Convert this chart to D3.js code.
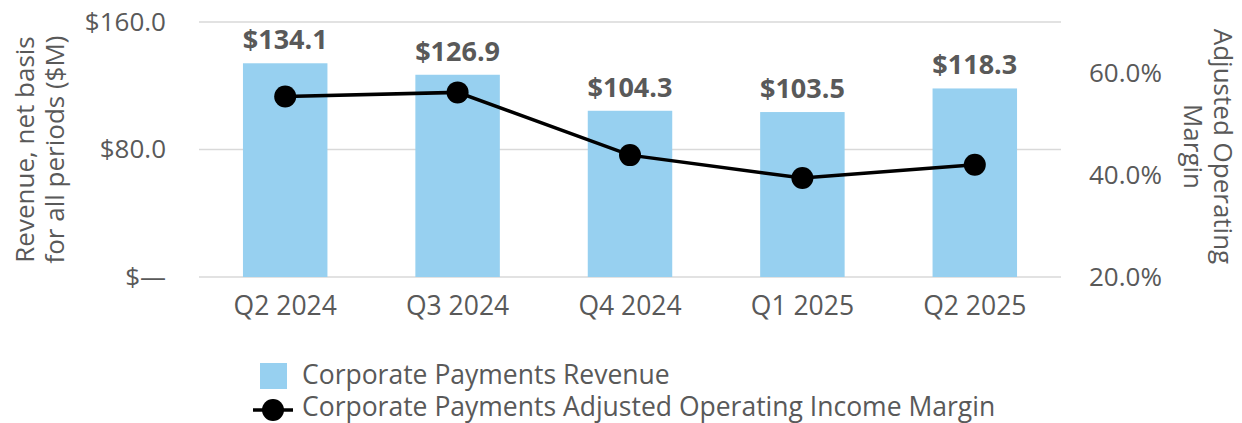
<!DOCTYPE html>
<html>
<head>
<meta charset="utf-8">
<script src="https://cdn.jsdelivr.net/npm/d3@7"></script>
<style>
  html, body { margin: 0; padding: 0; background: #fff; }
  svg text { font-family: "Open Sans", sans-serif; fill: #595959; }
</style>
</head>
<body>
<svg id="chart" width="1242" height="423"></svg>
<script>
const quarters = ["Q2 2024", "Q3 2024", "Q4 2024", "Q1 2025", "Q2 2025"];
const revenue = [134.1, 126.9, 104.3, 103.5, 118.3];
const margin = [55.4, 56.2, 43.9, 39.4, 42.0];
const revenueTicks = [0, 80, 160];
const marginTicks = [20, 40, 60];

const svg = d3.select("#chart");
const m = { top: 22, right: 181, bottom: 146, left: 199 };
const width = 1242, height = 423;
const chartWidth = width - m.left - m.right;
const chartHeight = height - m.top - m.bottom;

const g = svg.append("g").attr("transform", `translate(${m.left},${m.top})`);

const x = d3.scaleBand().domain(quarters).range([0, chartWidth]).paddingInner(0.51).paddingOuter(0.255);
const y = d3.scaleLinear().domain([0, 160]).range([chartHeight, 0]);
const y2 = d3.scaleLinear().domain([20, 70]).range([chartHeight, 0]);

// gridlines
g.selectAll(".grid")
    .data(revenueTicks)
    .enter()
    .append("line")
    .attr("x1", 0)
    .attr("x2", chartWidth)
    .attr("y1", d => y(d))
    .attr("y2", d => y(d))
    .attr("stroke", "#d9d9d9")
    .attr("stroke-width", 1.5);

// bars
g.selectAll("rect.bar")
    .data(revenue)
    .enter()
    .append("rect")
    .attr("class", "bar")
    .attr("x", (d, i) => x(quarters[i]))
    .attr("y", d => y(d))
    .attr("width", x.bandwidth())
    .attr("height", d => chartHeight - y(d))
    .attr("fill", "#97d0f0");

// bar labels
g.selectAll("text.val")
    .data(revenue)
    .enter()
    .append("text")
    .attr("x", (d, i) => x(quarters[i]) + x.bandwidth() / 2)
    .attr("y", d => y(d) - 14)
    .attr("text-anchor", "middle")
    .attr("font-size", "27px")
    .attr("font-weight", "bold")
    .text(d => "$" + d.toFixed(1));

// margin line
const line = d3.line()
    .x((d, i) => x(quarters[i]) + x.bandwidth() / 2)
    .y(d => y2(d));

g.append("path")
    .datum(margin)
    .attr("d", line)
    .attr("fill", "none")
    .attr("stroke", "#000")
    .attr("stroke-width", 3.5);

g.selectAll("circle.pt")
    .data(margin)
    .enter()
    .append("circle")
    .attr("cx", (d, i) => x(quarters[i]) + x.bandwidth() / 2)
    .attr("cy", d => y2(d))
    .attr("r", 11)
    .attr("fill", "#000");

// axes
const leftAxis = g.append("g")
    .call(d3.axisLeft(y).tickValues(revenueTicks).tickSize(0).tickPadding(33)
        .tickFormat(d => d === 0 ? "$\u2014" : "$" + d.toFixed(1)));
const rightAxis = g.append("g")
    .attr("transform", `translate(${chartWidth},0)`)
    .call(d3.axisRight(y2).tickValues(marginTicks).tickSize(0).tickPadding(28)
        .tickFormat(d => d.toFixed(1) + "%"));
const bottomAxis = g.append("g")
    .attr("transform", `translate(0,${chartHeight})`)
    .call(d3.axisBottom(x).tickSize(0).tickPadding(19));

[leftAxis, rightAxis].forEach(a => {
    a.select(".domain").remove();
    a.selectAll("text").attr("font-size", "26px").attr("font-family", "Open Sans").attr("fill", "#595959");
});
bottomAxis.select(".domain").remove();
bottomAxis.selectAll("text").attr("font-size", "26.5px").attr("font-family", "Open Sans").attr("fill", "#595959");

// axis titles
const leftTitle = svg.append("text")
    .attr("transform", `translate(38,${m.top + chartHeight / 2}) rotate(-90)`)
    .attr("text-anchor", "middle")
    .attr("font-size", "26px");
leftTitle.append("tspan").attr("x", 0).attr("y", -4).text("Revenue, net basis");
leftTitle.append("tspan").attr("x", 0).attr("y", 26).text("for all periods ($M)");

const rightTitle = svg.append("text")
    .attr("transform", `translate(1208,${m.top + chartHeight / 2 - 3}) rotate(90)`)
    .attr("text-anchor", "middle")
    .attr("font-size", "26px");
rightTitle.append("tspan").attr("x", 0).attr("y", -6).text("Adjusted Operating");
rightTitle.append("tspan").attr("x", 0).attr("y", 24).text("Margin");

// legend
const legend = svg.append("g");
legend.append("rect")
    .attr("x", 260).attr("y", 363).attr("width", 27).attr("height", 26)
    .attr("fill", "#97d0f0");
legend.append("text")
    .attr("x", 302).attr("y", 384)
    .attr("font-size", "26.5px")
    .text("Corporate Payments Revenue");
legend.append("line")
    .attr("x1", 253).attr("x2", 293).attr("y1", 410).attr("y2", 410)
    .attr("stroke", "#000").attr("stroke-width", 3.5);
legend.append("circle")
    .attr("cx", 273).attr("cy", 410).attr("r", 11).attr("fill", "#000");
legend.append("text")
    .attr("x", 302).attr("y", 416)
    .attr("font-size", "26.5px")
    .text("Corporate Payments Adjusted Operating Income Margin");
</script>
</body>
</html>
